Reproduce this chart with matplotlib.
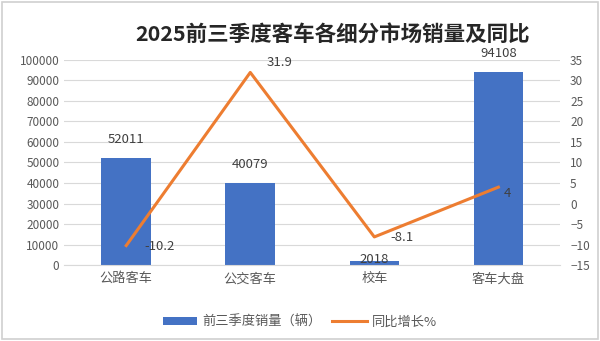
import matplotlib
matplotlib.use("Agg")
import matplotlib.pyplot as plt
from matplotlib.patches import Rectangle

plt.rcParams['font.family'] = ['Noto Sans CJK SC', 'DejaVu Sans']

categories = ['公路客车', '公交客车', '校车', '客车大盘']
sales = [52011, 40079, 2018, 94108]
yoy = [-10.2, 31.9, -8.1, 4]
sales_labels = ['52011', '40079', '2018', '94108']
yoy_labels = ['-10.2', '31.9', '-8.1', '4']

fig = plt.figure(figsize=(6, 3.41), dpi=100)
fig.patches.append(Rectangle((0.003, 0.005), 0.994, 0.99, transform=fig.transFigure,
                             fill=False, edgecolor='#d0d0d0', linewidth=1.2))
ax = fig.add_axes([0.107, 0.222, 0.827, 0.603])
ax2 = ax.twinx()

x = list(range(len(categories)))
bar_color = '#4472C4'
line_color = '#ED7D31'
txt = '#404040'
tick_c = '#595959'

ax.bar(x, sales, width=0.4, color=bar_color, zorder=2, label='前三季度销量（辆）')
ax.set_ylim(0, 100000)
ax.set_yticks(range(0, 100001, 10000))
ax.set_xlim(-0.5, 3.5)
ax.set_xticks(x)
ax.set_xticklabels(categories, fontsize=9, color=tick_c)
ax.grid(axis='y', color='#d9d9d9', linewidth=0.8, zorder=0)
ax.set_axisbelow(True)
for s in ['top', 'left', 'right']:
    ax.spines[s].set_visible(False)
ax.spines['bottom'].set_color('#d9d9d9')
ax.tick_params(axis='both', length=0, labelsize=8.5, labelcolor=tick_c)
ax.tick_params(axis='x', pad=5, labelsize=9.5)

ax2.plot(x, yoy, color=line_color, linewidth=2.2, zorder=3, label='同比增长%')
ax2.set_ylim(-15, 35)
ax2.set_yticks(range(-15, 36, 5))
for s in ['top', 'left', 'right', 'bottom']:
    ax2.spines[s].set_visible(False)
ax2.tick_params(axis='y', length=0, labelsize=8.5, labelcolor=tick_c, pad=7)

# bar labels (position of label centre in data units)
label_y = [61000, 49000, 2800, 103000]
for i, v in enumerate(sales):
    ax.text(i, label_y[i], sales_labels[i], ha='center', va='center', fontsize=9.5,
            color=txt, zorder=5, clip_on=False)

# line labels
loffs = [(0.27, -0.3), (0.24, 2.4), (0.22, -0.2), (0.07, -1.5)]
for i, v in enumerate(yoy):
    dx, dy = loffs[i]
    ax2.text(i + dx, v + dy, yoy_labels[i], ha='center', va='center', fontsize=9.5,
             color=txt, zorder=5)

fig.text(0.555, 0.9, '2025前三季度客车各细分市场销量及同比', ha='center', va='center',
         fontsize=15.5, fontweight='bold', color='#262626')

h1, l1 = ax.get_legend_handles_labels()
h2, l2 = ax2.get_legend_handles_labels()
fig.legend(h1 + h2, l1 + l2, loc='center', bbox_to_anchor=(0.5, 0.055), ncol=2,
           frameon=False, fontsize=9.5, handlelength=2.6, handleheight=0.6,
           columnspacing=0.8, handletextpad=0.4, labelcolor=tick_c)

fig.savefig('out.png', dpi=100)
